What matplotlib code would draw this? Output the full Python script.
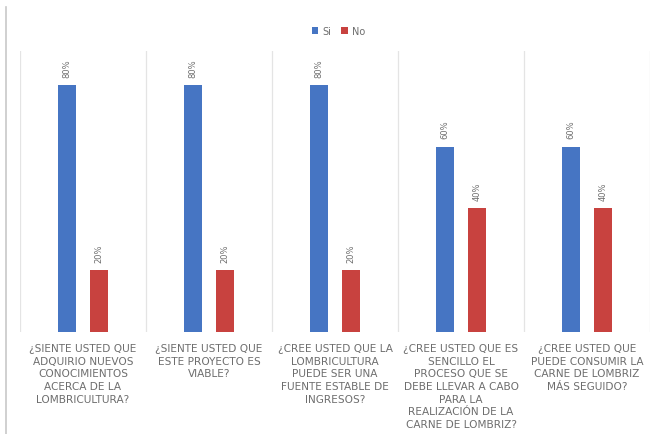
import numpy as np
import matplotlib.pyplot as plt
from matplotlib.lines import Line2D

categories = [
    "¿SIENTE USTED QUE\nADQUIRIO NUEVOS\nCONOCIMIENTOS\nACERCA DE LA\nLOMBRICULTURA?",
    "¿SIENTE USTED QUE\nESTE PROYECTO ES\nVIABLE?",
    "¿CREE USTED QUE LA\nLOMBRICULTURA\nPUEDE SER UNA\nFUENTE ESTABLE DE\nINGRESOS?",
    "¿CREE USTED QUE ES\nSENCILLO EL\nPROCESO QUE SE\nDEBE LLEVAR A CABO\nPARA LA\nREALIZACIÓN DE LA\nCARNE DE LOMBRIZ?",
    "¿CREE USTED QUE\nPUEDE CONSUMIR LA\nCARNE DE LOMBRIZ\nMÁS SEGUIDO?",
]
si = [0.80, 0.80, 0.80, 0.60, 0.60]
no = [0.20, 0.20, 0.20, 0.40, 0.40]

blue = '#4675c3'
red = '#c8423f'
grey = '#6e6e6e'

fig = plt.figure(figsize=(6.58, 4.35), dpi=100)
ax = fig.add_axes([20/658, 1 - 333/435, 630/658, 281/435])

x = np.arange(len(categories))
w = 0.145
off = 0.128
b1 = ax.bar(x - off, si, w, color=blue, label='Si', zorder=3)
b2 = ax.bar(x + off, no, w, color=red, label='No', zorder=3)

for bars in (b1, b2):
    for r in bars:
        ax.text(r.get_x() + r.get_width()/2, r.get_height() + 0.027,
                f"{r.get_height():.0%}", rotation=90, ha='center', va='bottom',
                fontsize=6, color=grey)

ax.set_xlim(-0.5, len(categories) - 0.5)
ax.set_ylim(0, 0.91)
for xv in np.arange(-0.5, len(categories), 1):
    ax.axvline(xv, color='#e4e4e4', lw=0.9, zorder=1)

ax.set_yticks([])
ax.set_xticks(x)
ax.set_xticklabels(categories, fontsize=7.6, color=grey, linespacing=1.33,
                   va='top')
ax.tick_params(axis='x', length=0, pad=8)
for s in ax.spines.values():
    s.set_visible(False)

ax.legend(loc='upper center', bbox_to_anchor=(0.505, 1.12), ncol=2,
          frameon=False, fontsize=7, handlelength=0.7, handleheight=0.7,
          columnspacing=1.0, handletextpad=0.4, labelcolor=grey)

# left edge border of the chart frame
fig.add_artist(Line2D([6/658, 6/658], [0, 1 - 8/435], transform=fig.transFigure,
                      color='#c8c8c8', lw=1.2))

fig.savefig('out.png', dpi=100)
